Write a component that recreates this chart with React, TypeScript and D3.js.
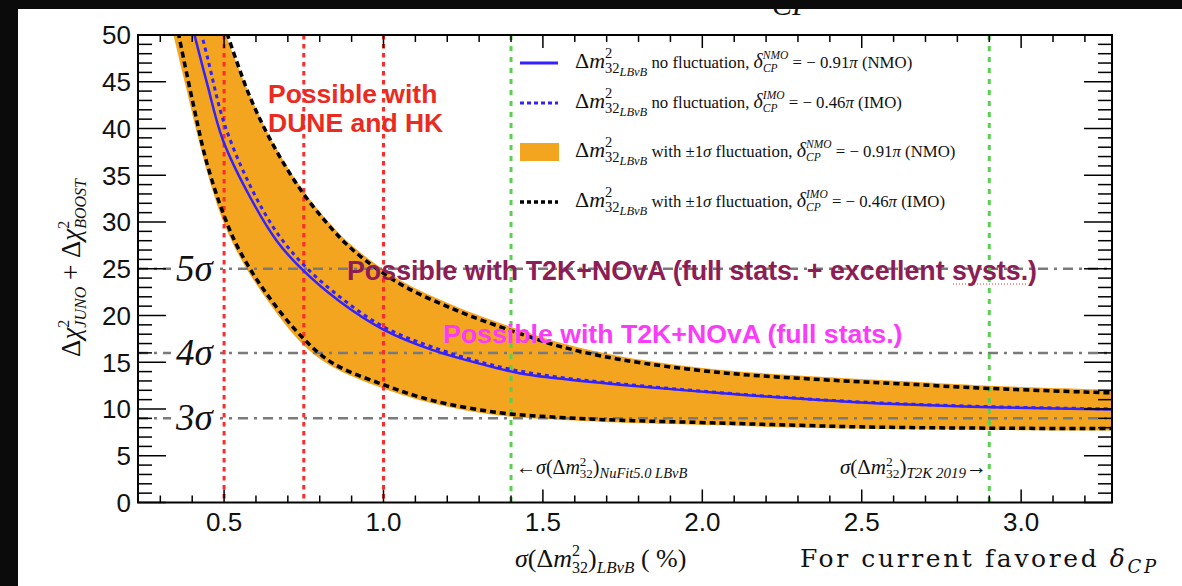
import React from 'react';
import * as d3 from 'd3';

const W = 1182;
const H = 586;

// ---------- data ----------
const xMajorTicks = [0.5, 1.0, 1.5, 2.0, 2.5, 3.0];
const xTickLabels = ['0.5', '1.0', '1.5', '2.0', '2.5', '3.0'];
const yMajorTicks = [0, 5, 10, 15, 20, 25, 30, 35, 40, 45, 50];
const sigmaLevels = [9, 16, 25];
const sigmaLabels = ['3', '4', '5'];
const redLinesX = [0.5, 0.75, 1.0];
const greenLinesX = [1.4, 2.9];

const bandUpper: [number, number][] = [
  [0.503, 50.2], [0.578, 43.8], [0.65, 38.7], [0.735, 34.0], [0.82, 30.3], [0.904, 27.4],
  [1.051, 23.8], [1.218, 21.1], [1.365, 19.2], [1.46, 18.1], [1.553, 17.1], [1.741, 15.65],
  [2.055, 14.2], [2.369, 13.45], [2.62, 13.0], [2.9, 12.5], [3.3, 12.05],
];
const bandLower: [number, number][] = [
  [0.339, 50.3], [0.38, 44.5], [0.42, 38.8], [0.46, 33.8], [0.5, 29.8], [0.55, 26.2],
  [0.634, 21.7], [0.747, 16.9], [0.841, 14.5], [1.0, 12.2], [1.155, 10.6], [1.365, 9.3],
  [1.553, 8.85], [1.741, 8.55], [2.055, 8.25], [2.306, 8.0], [2.557, 7.85], [2.9, 7.75], [3.3, 7.7],
];
const imoUpper: [number, number][] = [
  [0.509, 50.2], [0.581, 43.4], [0.653, 38.3], [0.737, 33.6], [0.822, 29.9], [0.904, 27.0],
  [1.051, 23.4], [1.218, 20.7], [1.365, 18.8], [1.46, 17.7], [1.553, 16.7], [1.741, 15.3],
  [2.055, 13.9], [2.369, 13.15], [2.62, 12.7], [2.9, 12.2], [3.3, 11.7],
];
const imoLower: [number, number][] = [
  [0.356, 50.3], [0.402, 42.8], [0.446, 36.3], [0.502, 30.5], [0.549, 26.9], [0.634, 22.3],
  [0.747, 17.6], [0.841, 14.9], [1.0, 12.6], [1.155, 10.9], [1.365, 9.6], [1.553, 9.1],
  [1.741, 8.8], [2.055, 8.5], [2.306, 8.25], [2.557, 8.05], [2.9, 7.95], [3.3, 7.9],
];
const nmoCentral: [number, number][] = [
  [0.405, 50.3], [0.446, 44.9], [0.496, 38.8], [0.581, 32.7], [0.665, 28.0], [0.737, 25.2],
  [0.863, 21.5], [1.0, 18.5], [1.155, 16.3], [1.365, 14.3], [1.43, 13.8], [1.55, 13.25],
  [1.741, 12.6], [2.055, 11.7], [2.369, 10.95], [2.557, 10.6], [2.9, 10.2], [3.3, 9.95],
];
const imoCentral: [number, number][] = [
  [0.428, 50.3], [0.45, 47.3], [0.5, 40.6], [0.58, 34.0], [0.665, 28.9], [0.75, 25.4],
  [0.87, 21.8], [1.0, 18.8], [1.155, 16.6], [1.365, 14.5], [1.55, 13.4], [1.741, 12.7],
  [2.055, 11.75], [2.369, 11.0], [2.557, 10.65], [2.9, 10.25], [3.3, 10.0],
];

// ---------- layout ----------
const L = 138, R = 1112, T = 35, B = 502.5;
const SERIF = 'Liberation Serif, Times New Roman, serif';
const SANS = 'Liberation Sans, Arial, sans-serif';

const ORANGE = '#f3a520';
const BLUE = '#3322ff';
const RED = '#ff2a2a';
const GREEN = '#5ad04f';
const GRAY = '#7a7a7a';

export default function App() {
  const x = d3.scaleLinear().domain([0.23, 3.285]).range([L, R]);
  const y = d3.scaleLinear().domain([0, 50]).range([B, T]);

  const line = d3.line<[number, number]>().x(d => x(d[0])).y(d => y(d[1])).curve(d3.curveCatmullRom.alpha(0.5));
  const upPath = line(bandUpper) as string;
  const lowPath = line([...bandLower].reverse()) as string;
  const bandPath = upPath + 'L' + lowPath.slice(1) + 'Z';

  const xMinor = d3.range(0.3, 3.25, 0.1);
  const yMinor = d3.range(0, 51, 1);

  const legendRow = (yb: number, body: React.ReactNode) => (
    <text x={575} y={yb} fontFamily={SERIF} fontSize={16.8} fill="#111">
      {body}
    </text>
  );
  const dm = (
    <>
      <tspan fontSize={22}>Δ</tspan>
      <tspan fontSize={22} fontStyle="italic">m</tspan>
      <tspan fontSize={14.5} dy={-10}>2</tspan>
      <tspan fontSize={14.5} dx={-7.3} dy={15}>32</tspan>
      <tspan fontSize={12.5} fontStyle="italic" dy={3}>LBνB</tspan>
    </>
  );
  const delta = (mo: string, dxBack: number, dxFwd: number) => (
    <>
      <tspan fontSize={20} fontStyle="italic">δ</tspan>
      <tspan fontSize={11.5} fontStyle="italic" dy={-9}>{mo}</tspan>
      <tspan fontSize={11.5} fontStyle="italic" dx={-dxBack} dy={13}>CP</tspan>
      <tspan dx={dxFwd} dy={-4}> = − </tspan>
    </>
  );

  return (
    <svg width={W} height={H} style={{ position: 'absolute', left: 0, top: 0, background: '#fff' }}>
      <defs>
        <clipPath id="plot">
          <rect x={L} y={T} width={R - L} height={B - T} />
        </clipPath>
      </defs>
      <rect x={0} y={0} width={W} height={H} fill="#fff" />

      <g clipPath="url(#plot)">
        <path d={bandPath} fill={ORANGE} />
        {sigmaLevels.map(s => (
          <line key={s} x1={L} x2={R} y1={y(s)} y2={y(s)} stroke={GRAY} strokeWidth={2.5} strokeDasharray="10,6,3,6" />
        ))}
        {redLinesX.map(v => (
          <line key={v} x1={x(v)} x2={x(v)} y1={T} y2={B} stroke={RED} strokeWidth={3} strokeDasharray="4.5,4.5" />
        ))}
        {greenLinesX.map(v => (
          <line key={v} x1={x(v)} x2={x(v)} y1={T} y2={B} stroke={GREEN} strokeWidth={3} strokeDasharray="5,6" />
        ))}
        <path d={line(imoUpper) as string} fill="none" stroke="#000" strokeWidth={3.5} strokeDasharray="6,4" />
        <path d={line(imoLower) as string} fill="none" stroke="#000" strokeWidth={3.5} strokeDasharray="6,4" />
        <path d={line(nmoCentral) as string} fill="none" stroke={BLUE} strokeWidth={2.5} />
        <path d={line(imoCentral) as string} fill="none" stroke={BLUE} strokeWidth={3} strokeDasharray="4,4" />
      </g>

      {sigmaLevels.map((s, i) => (
        <g key={s}>
          <rect x={171} y={y(s) - 17} width={49} height={32} fill="#fff" />
          <text x={176} y={y(s) + 12} fontFamily={SERIF} fontSize={37} fontStyle="italic" fill="#111">
            {sigmaLabels[i]}σ
          </text>
        </g>
      ))}

      <rect x={L} y={T} width={R - L} height={B - T} fill="none" stroke="#000" strokeWidth={2} />
      {xMinor.map(v => {
        const isMajor = xMajorTicks.some(m => Math.abs(m - v) < 1e-6);
        const len = isMajor ? 13 : 7;
        return (
          <g key={v}>
            <line x1={x(v)} x2={x(v)} y1={B} y2={B - len} stroke="#000" strokeWidth={1.5} />
            <line x1={x(v)} x2={x(v)} y1={T} y2={T + len} stroke="#000" strokeWidth={1.5} />
          </g>
        );
      })}
      {yMinor.map(v => {
        const len = v % 5 === 0 ? 28 : 14;
        return (
          <g key={v}>
            <line x1={L} x2={L + len} y1={y(v)} y2={y(v)} stroke="#000" strokeWidth={1.5} />
            <line x1={R} x2={R - len} y1={y(v)} y2={y(v)} stroke="#000" strokeWidth={1.5} />
          </g>
        );
      })}
      {xMajorTicks.map((v, i) => (
        <text key={v} x={x(v)} y={531} textAnchor="middle" fontFamily={SANS} fontSize={26} fill="#111">
          {xTickLabels[i]}
        </text>
      ))}
      {yMajorTicks.map(v => (
        <text key={v} x={131} y={y(v)} dy="0.36em" textAnchor="end" fontFamily={SANS} fontSize={26} fill="#111">
          {v}
        </text>
      ))}

      <text transform="translate(80,268) rotate(-90)" textAnchor="middle" fontFamily={SERIF} fontSize={27} fill="#111">
        <tspan>Δ</tspan>
        <tspan fontStyle="italic">χ</tspan>
        <tspan fontSize={16} dy={-11}>2</tspan>
        <tspan fontSize={16} fontStyle="italic" dx={-8} dy={17}>JUNO</tspan>
        <tspan dy={-6}> + Δ</tspan>
        <tspan fontStyle="italic">χ</tspan>
        <tspan fontSize={16} dy={-11}>2</tspan>
        <tspan fontSize={16} fontStyle="italic" dx={-8} dy={17}>BOOST</tspan>
      </text>

      <text x={515} y={567} fontFamily={SERIF} fontSize={26} fill="#111">
        <tspan fontStyle="italic">σ</tspan>
        <tspan>(Δ</tspan>
        <tspan fontStyle="italic">m</tspan>
        <tspan fontSize={16} dy={-11}>2</tspan>
        <tspan fontSize={16} dx={-8} dy={17}>32</tspan>
        <tspan dy={-6}>)</tspan>
        <tspan fontSize={17} fontStyle="italic" dy={6}>LBνB</tspan>
        <tspan dy={-6}> ( %)</tspan>
      </text>

      <text x={800} y={567} fontFamily="DejaVu Serif, serif" fontSize={25} letterSpacing={2.6} fill="#111">
        <tspan>For current favored </tspan>
        <tspan fontStyle="italic">δ</tspan>
        <tspan fontSize={18} fontStyle="italic" dy={6}>CP</tspan>
      </text>

      <line x1={520} x2={558} y1={63} y2={63} stroke={BLUE} strokeWidth={3} />
      <line x1={520} x2={558} y1={103} y2={103} stroke={BLUE} strokeWidth={3} strokeDasharray="4,3" />
      <rect x={520} y={143} width={39} height={18} fill={ORANGE} />
      <line x1={520} x2={558} y1={202} y2={202} stroke="#000" strokeWidth={3.5} strokeDasharray="4,3" />
      {legendRow(68, <>{dm}<tspan dy={-8}> no fluctuation, </tspan>{delta('NMO', 25.5, 10.8)}<tspan>0.91</tspan><tspan fontStyle="italic">π</tspan><tspan> (NMO)</tspan></>)}
      {legendRow(108, <>{dm}<tspan dy={-8}> no fluctuation, </tspan>{delta('IMO', 21.7, 7)}<tspan>0.46</tspan><tspan fontStyle="italic">π</tspan><tspan> (IMO)</tspan></>)}
      {legendRow(157, <>{dm}<tspan dy={-8}> with ±1</tspan><tspan fontStyle="italic">σ</tspan><tspan> fluctuation, </tspan>{delta('NMO', 25.5, 10.8)}<tspan>0.91</tspan><tspan fontStyle="italic">π</tspan><tspan> (NMO)</tspan></>)}
      {legendRow(207, <>{dm}<tspan dy={-8}> with ±1</tspan><tspan fontStyle="italic">σ</tspan><tspan> fluctuation, </tspan>{delta('IMO', 21.7, 7)}<tspan>0.46</tspan><tspan fontStyle="italic">π</tspan><tspan> (IMO)</tspan></>)}

      <text x={268} y={103} fontFamily={SANS} fontWeight="bold" fontSize={26.5} fill="#ea2b22">Possible with</text>
      <text x={268} y={132} fontFamily={SANS} fontWeight="bold" fontSize={26.5} fill="#ea2b22">DUNE and HK</text>
      <text x={347} y={280} fontFamily={SANS} fontWeight="bold" fontSize={26.8} fill="#8d1d55">
        Possible with T2K+NOvA (full stats. + excellent systs.)
      </text>
      <line x1={953} x2={1028} y1={284} y2={284} stroke="#e33" strokeWidth={1} strokeDasharray="1,2" />
      <text x={443} y={343} fontFamily={SANS} fontWeight="bold" fontSize={26.7} fill="#fa3cf8">
        Possible with T2K+NOvA (full stats.)
      </text>

      <text x={516} y={474} fontFamily={SERIF} fontSize={20} fill="#111">
        <tspan>←</tspan>
        <tspan fontStyle="italic">σ</tspan>
        <tspan>(Δ</tspan>
        <tspan fontStyle="italic">m</tspan>
        <tspan fontSize={13} dy={-8}>2</tspan>
        <tspan fontSize={13} dx={-6.5} dy={12}>32</tspan>
        <tspan dy={-4}>)</tspan>
        <tspan fontSize={14.5} fontStyle="italic" dy={4}>NuFit5.0 LBνB</tspan>
      </text>
      <text x={987} y={474} textAnchor="end" fontFamily={SERIF} fontSize={21} fill="#111">
        <tspan fontStyle="italic">σ</tspan>
        <tspan>(Δ</tspan>
        <tspan fontStyle="italic">m</tspan>
        <tspan fontSize={13.5} dy={-8}>2</tspan>
        <tspan fontSize={13.5} dx={-6.8} dy={12}>32</tspan>
        <tspan dy={-4}>)</tspan>
        <tspan fontSize={15} fontStyle="italic" dy={4}>T2K 2019</tspan>
        <tspan dy={-4}>→</tspan>
      </text>

      <text x={772} y={15} fontFamily={SERIF} fontSize={30} fontStyle="italic" fill="#111">CP</text>
      <rect x={0} y={0} width={W} height={9} fill="#0b0b0b" />
      <rect x={0} y={0} width={18} height={H} fill="#0b0b0b" />
    </svg>
  );
}
